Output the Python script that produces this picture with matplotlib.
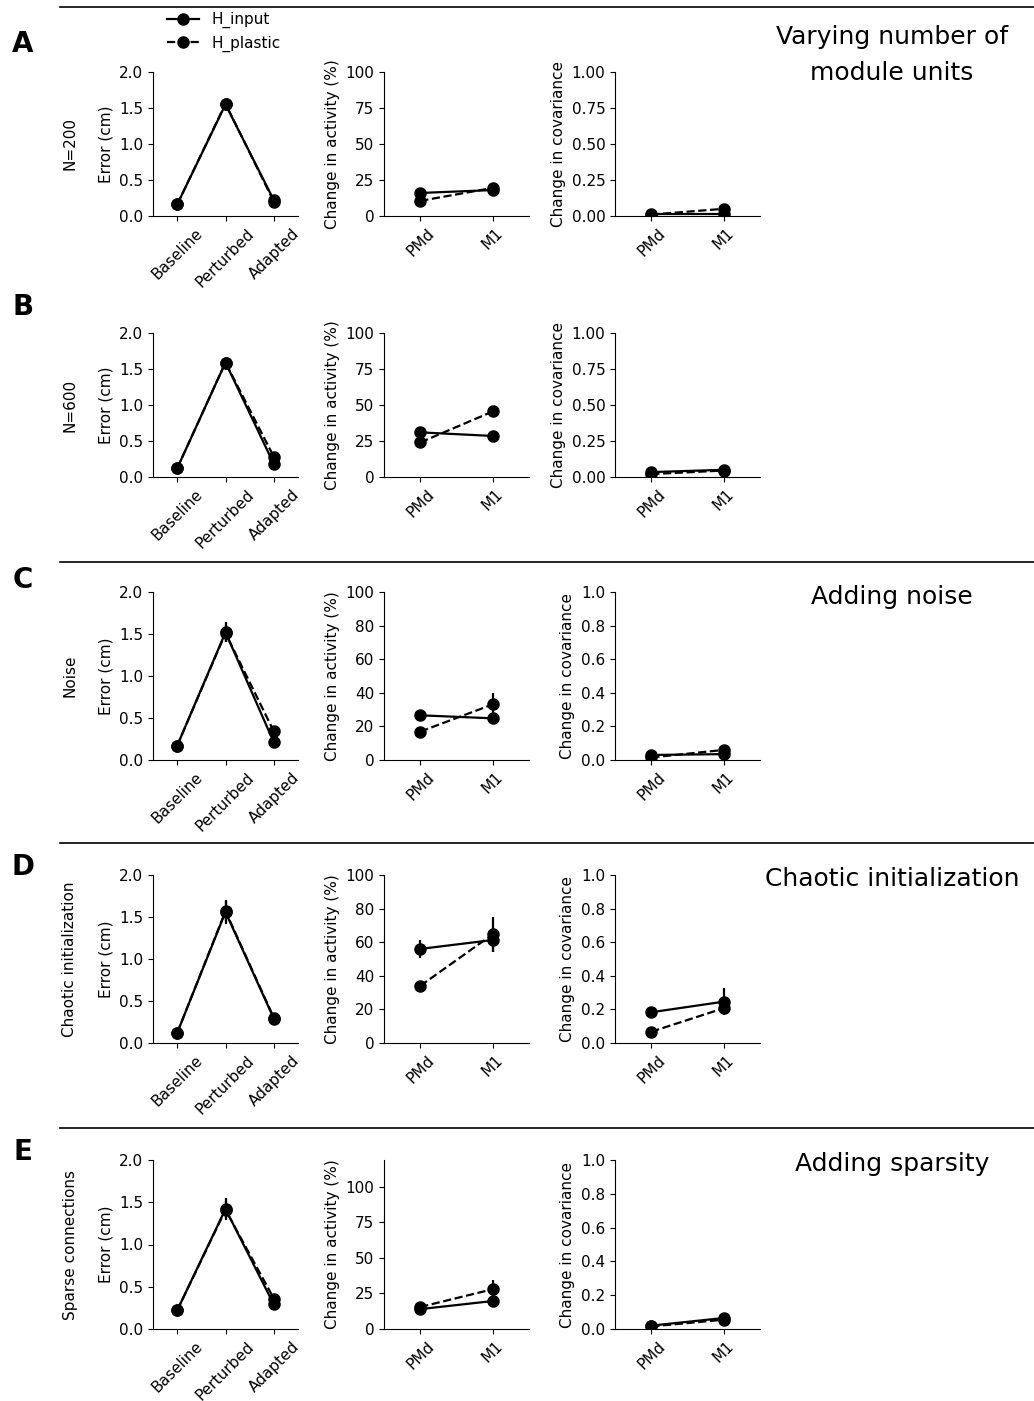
import matplotlib
matplotlib.use("Agg")
import matplotlib.pyplot as plt
from matplotlib.lines import Line2D
import numpy as np

W, H = 1034, 1401

PHASES = ["Baseline", "Perturbed", "Adapted"]
AREAS = ["PMd", "M1"]
ROW_KEYS = ["A", "B", "C", "D", "E"]
ROW_LABELS = ["N=200", "N=600", "Noise", "Chaotic initialization", "Sparse connections"]

# error (cm): H_input / H_plastic, mean and sem
err_input = [[0.16, 1.55, 0.22], [0.12, 1.59, 0.18], [0.17, 1.52, 0.21],
             [0.12, 1.56, 0.29], [0.22, 1.42, 0.29]]
err_input_sem = [[0.01, 0.02, 0.02], [0.01, 0.02, 0.02], [0.01, 0.12, 0.03],
                 [0.01, 0.14, 0.03], [0.01, 0.13, 0.07]]
err_plastic = [[0.16, 1.56, 0.20], [0.12, 1.59, 0.28], [0.17, 1.51, 0.34],
               [0.12, 1.57, 0.30], [0.22, 1.41, 0.36]]
err_plastic_sem = [[0.01, 0.02, 0.02], [0.01, 0.02, 0.02], [0.01, 0.10, 0.05],
                   [0.01, 0.12, 0.04], [0.01, 0.10, 0.04]]

# change in activity (%)
act_input = [[16, 18], [31, 28.5], [26.6, 24.8], [56, 61.3], [14, 19.7]]
act_input_sem = [[1, 1], [1, 1], [1, 1.5], [5.6, 7], [1.5, 4]]
act_plastic = [[10.5, 19.5], [24, 45.5], [16.9, 33.1], [34, 64.7], [15.5, 28]]
act_plastic_sem = [[1, 1], [1, 1], [1, 6.5], [1.5, 10.5], [1.5, 6.5]]

# change in covariance
cov_input = [[0.015, 0.015], [0.034, 0.05], [0.03, 0.035], [0.183, 0.246], [0.02, 0.065]]
cov_input_sem = [[0.003, 0.003], [0.004, 0.004], [0.004, 0.005], [0.03, 0.08], [0.003, 0.005]]
cov_plastic = [[0.01, 0.05], [0.02, 0.045], [0.015, 0.06], [0.067, 0.207], [0.015, 0.055]]
cov_plastic_sem = [[0.003, 0.004], [0.003, 0.004], [0.003, 0.006], [0.01, 0.03], [0.003, 0.005]]

# axis ranges / ticks per row
act_ylim = [100, 100, 100, 100, 119]
act_ticks = [[0, 25, 50, 75, 100], [0, 25, 50, 75, 100], [0, 20, 40, 60, 80, 100],
             [0, 20, 40, 60, 80, 100], [0, 25, 50, 75, 100]]
cov_ticks = [[0, 0.25, 0.5, 0.75, 1.0], [0, 0.25, 0.5, 0.75, 1.0],
             [0, 0.2, 0.4, 0.6, 0.8, 1.0], [0, 0.2, 0.4, 0.6, 0.8, 1.0],
             [0, 0.2, 0.4, 0.6, 0.8, 1.0]]
cov_fmt = ["{:.2f}", "{:.2f}", "{:.1f}", "{:.1f}", "{:.1f}"]

SECTION_TITLES = {"A": "Varying number of\nmodule units", "C": "Adding noise",
                  "D": "Chaotic initialization", "E": "Adding sparsity"}

# layout in pixels
ROW_Y = [(72, 216), (333, 477), (592, 760), (875, 1043), (1160, 1329)]
COL_X = [153, 384, 615]
AX_W = 145
LETTER_Y = [44, 307, 580, 867, 1152]
TITLE_Y = {"A": 55, "C": 597, "D": 879, "E": 1164}
SEP_Y = [7, 562, 843, 1128]

plt.rcParams["font.size"] = 11

fig = plt.figure(figsize=(W / 100, H / 100), dpi=100)


def px_axes(x, y0, y1, w):
    return fig.add_axes([x / W, 1 - y1 / H, w / W, (y1 - y0) / H])


def draw(ax, xs, a, a_sem, b, b_sem):
    kw = dict(color="k", marker="o", ms=8, lw=1.6, elinewidth=1.6, capsize=0)
    ax.errorbar(xs, b, yerr=b_sem, ls="--", **kw)
    ax.errorbar(xs, a, yerr=a_sem, ls="-", **kw)
    ax.spines["top"].set_visible(False)
    ax.spines["right"].set_visible(False)


for i, key in enumerate(ROW_KEYS):
    y0, y1 = ROW_Y[i]

    ax = px_axes(COL_X[0], y0, y1, AX_W)
    x3 = np.arange(len(PHASES))
    draw(ax, x3, err_input[i], err_input_sem[i], err_plastic[i], err_plastic_sem[i])
    ax.set_xlim(-0.5, 2.5)
    ax.set_ylim(0, 2.0)
    ax.set_yticks([0, 0.5, 1.0, 1.5, 2.0])
    ax.set_xticks(x3)
    ax.set_xticklabels(PHASES, rotation=45)
    ax.set_ylabel("Error (cm)")

    ax = px_axes(COL_X[1], y0, y1, AX_W)
    x2 = np.arange(len(AREAS))
    draw(ax, x2, act_input[i], act_input_sem[i], act_plastic[i], act_plastic_sem[i])
    ax.set_xlim(-0.5, 1.5)
    ax.set_ylim(0, act_ylim[i])
    ax.set_yticks(act_ticks[i])
    ax.set_xticks(x2)
    ax.set_xticklabels(AREAS, rotation=45)
    ax.set_ylabel("Change in activity (%)")

    ax = px_axes(COL_X[2], y0, y1, AX_W)
    draw(ax, x2, cov_input[i], cov_input_sem[i], cov_plastic[i], cov_plastic_sem[i])
    ax.set_xlim(-0.5, 1.5)
    ax.set_ylim(0, 1.0)
    ax.set_yticks(cov_ticks[i])
    ax.set_yticklabels([cov_fmt[i].format(t) for t in cov_ticks[i]])
    ax.set_xticks(x2)
    ax.set_xticklabels(AREAS, rotation=45)
    ax.set_ylabel("Change in covariance")

    fig.text(70 / W, 1 - (y0 + y1) / 2 / H, ROW_LABELS[i], rotation=90,
             ha="center", va="center")
    fig.text(23 / W, 1 - LETTER_Y[i] / H, key, fontsize=20, fontweight="bold",
             ha="center", va="center")
    if key in SECTION_TITLES:
        fig.text(892 / W, 1 - TITLE_Y[key] / H, SECTION_TITLES[key], fontsize=18,
                 ha="center", va="center", linespacing=1.6)

for y in SEP_Y:
    fig.add_artist(Line2D([60 / W, 1], [1 - y / H, 1 - y / H], color="k", lw=1.2))

handles = [Line2D([], [], color="k", marker="o", ms=8, lw=1.6, ls="-"),
           Line2D([], [], color="k", marker="o", ms=8, lw=1.6, ls="--")]
fig.legend(handles, ["H_input", "H_plastic"], loc="upper left",
           bbox_to_anchor=(167 / W, 1 - 12 / H), frameon=False,
           borderaxespad=0, borderpad=0, handlelength=2.1, labelspacing=0.5)

fig.savefig("out.png", dpi=100)
